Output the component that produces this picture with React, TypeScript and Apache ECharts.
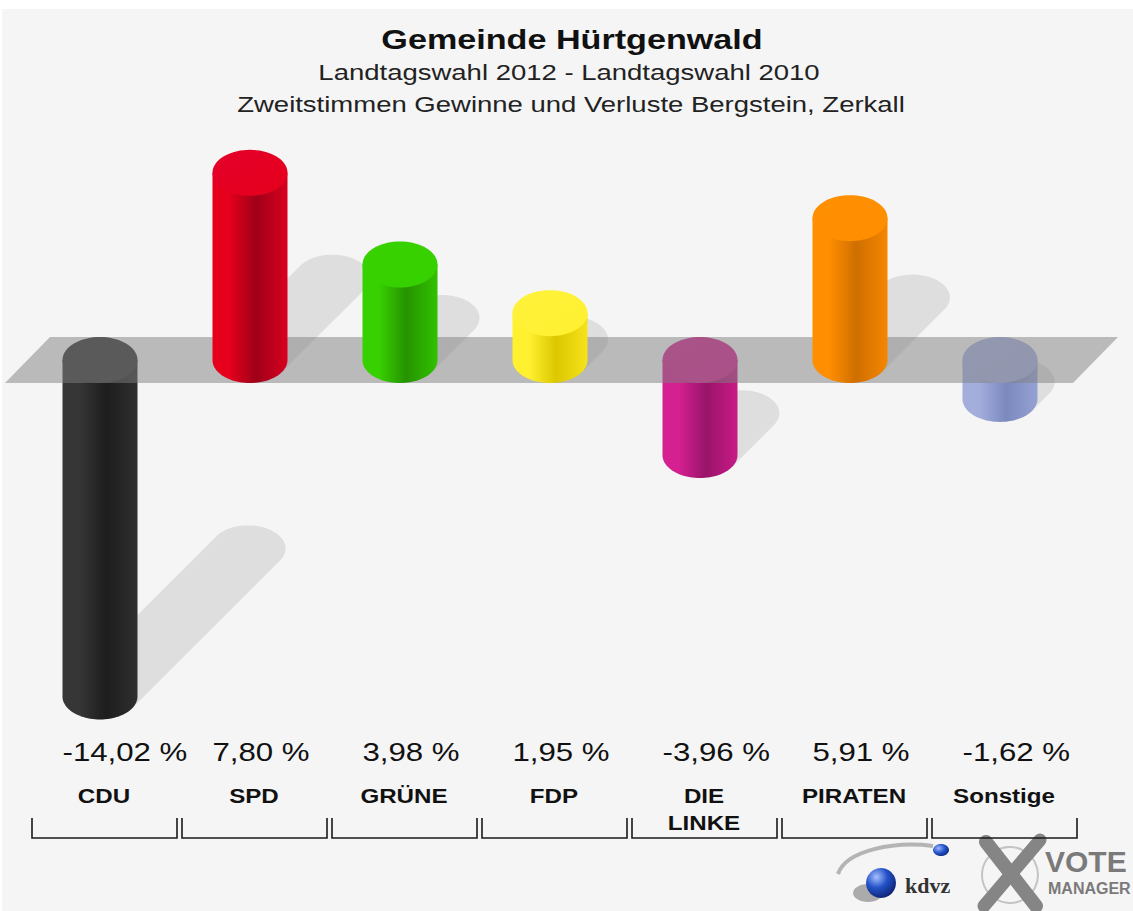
import React, { useEffect, useRef } from "react";
import * as echarts from "echarts";

// ---------- data ----------
const categories = ["CDU", "SPD", "GRÜNE", "FDP", "DIE\nLINKE", "PIRATEN", "Sonstige"];
const values = [-14.02, 7.8, 3.98, 1.95, -3.96, 5.91, -1.62];
const titleText = "Gemeinde Hürtgenwald";
const subtitleLines = [
  "Landtagswahl 2012 - Landtagswahl 2010",
  "Zweitstimmen Gewinne und Verluste Bergstein, Zerkall",
];
const yMin = -15;
const yMax = 10;

// ---------- palette ----------
const bodyLeft = ["#363636", "#e6001c", "#37d000", "#fff030", "#d42090", "#ff8e00", "#a3aedd"];
const bodyMid = ["#1d1d1d", "#9f0019", "#269300", "#dcc700", "#99146a", "#cf6f00", "#7c89be"];
const bodyRight = ["#2f2f2f", "#d8001f", "#31c100", "#f6e31a", "#c81a86", "#f58600", "#96a2d4"];
const capColor = ["#333333", "#e3002a", "#38d200", "#fff23a", "#d22890", "#ff9000", "#a5b0de"];

const FONT = '"Liberation Sans", Arial, Helvetica, sans-serif';
const RY = 23;

const fmt = (v: number) => v.toFixed(2).replace(".", ",") + " %";

function ellipseArc(cx: number, cy: number, rx: number, ry: number, a0: number, a1: number, n = 48) {
  const pts: number[][] = [];
  for (let j = 0; j <= n; j++) {
    const a = a0 + ((a1 - a0) * j) / n;
    pts.push([cx + rx * Math.cos(a), cy + ry * Math.sin(a)]);
  }
  return pts;
}

function sweptEllipse(cx: number, cy: number, rx: number, ry: number, tx: number, ty: number, n = 160) {
  const pts: number[][] = [];
  for (let j = 0; j < n; j++) {
    const a = (2 * Math.PI * j) / n;
    const c = Math.cos(a);
    const s = Math.sin(a);
    let x = cx + rx * c;
    let y = cy + ry * s;
    if ((c / rx) * tx + (s / ry) * ty > 0) {
      x += tx;
      y += ty;
    }
    pts.push([x, y]);
  }
  return pts;
}

function bodyGradient(i: number) {
  return new echarts.graphic.LinearGradient(0, 0, 1, 0, [
    { offset: 0, color: bodyLeft[i] },
    { offset: 0.22, color: bodyLeft[i] },
    { offset: 0.58, color: bodyMid[i] },
    { offset: 1, color: bodyRight[i] },
  ]);
}

function geom(api: any) {
  const i = api.value(0) as number;
  const v = api.value(1) as number;
  const [cx, yv] = api.coord([i, v]);
  const [, y0] = api.coord([i, 0]);
  const bw = api.size([1, 0])[0];
  const rx = bw * 0.25;
  return { i, v, cx, yv, y0, bw, rx };
}

export default function App() {
  const ref = useRef<HTMLDivElement>(null);

  useEffect(() => {
    const chart = echarts.init(ref.current!, null, { renderer: "svg" });
    const data = values.map((v, i) => [i, v]);

    const shadowItem = (params: any, api: any) => {
      const { v, cx, yv, y0, rx } = geom(api);
      const h = Math.abs(yv - y0);
      const yBase = v >= 0 ? y0 : yv;
      const d = 0.44 * h;
      return {
        type: "polygon",
        shape: { points: sweptEllipse(cx, yBase, rx, RY, d, -d) },
        style: { fill: "rgba(0,0,0,0.09)" },
      };
    };

    const barItem = (wantPositive: boolean) => (params: any, api: any) => {
      const { i, v, cx, yv, y0, rx } = geom(api);
      if ((v >= 0) !== wantPositive) return null;
      const xl = cx - rx;
      const xr = cx + rx;
      const yTop = v >= 0 ? yv : y0;
      const yBot = v >= 0 ? y0 : yv;
      const body = [[xl, yTop], [xr, yTop], ...ellipseArc(cx, yBot, rx, RY, 0, Math.PI)];
      const cap = ellipseArc(cx, yTop, rx, RY, 0, 2 * Math.PI, 72);
      return {
        type: "group",
        children: [
          { type: "polygon", shape: { points: body }, style: { fill: bodyGradient(i) } },
          {
            type: "polygon",
            shape: { points: cap },
            style: {
              fill: new echarts.graphic.LinearGradient(0, 0, 1, 1, [
                { offset: 0, color: capColor[i] },
                { offset: 1, color: bodyLeft[i] },
              ]),
            },
          },
        ],
      };
    };

    const bandItem = (params: any, api: any) => {
      const [, y0] = api.coord([0, 0]);
      const cs = params.coordSys;
      const left = cs.x - 20;
      const right = cs.x + cs.width - 2;
      const shift = 45;
      return {
        type: "polygon",
        shape: {
          points: [
            [left, y0 + RY],
            [right, y0 + RY],
            [right + shift, y0 - RY],
            [left + shift, y0 - RY],
          ],
        },
        style: { fill: "rgba(128,128,128,0.5)" },
      };
    };

    const labelItem = (params: any, api: any) => {
      const { i, v, cx, bw, rx } = geom(api);
      const secL = cx - bw / 2 + 7;
      const secR = cx + bw / 2 + 2;
      return {
        type: "group",
        children: [
          {
            type: "text",
            x: cx - rx,
            y: 752,
            scaleX: 1.2,
            style: {
              text: fmt(v),
              fill: "#111111",
              font: `26px ${FONT}`,
              align: "left",
              textAlign: "left",
              verticalAlign: "middle",
              textVerticalAlign: "middle",
            },
          },
          {
            type: "text",
            x: cx + 4,
            y: 783,
            scaleX: 1.15,
            style: {
              text: categories[i],
              fill: "#111111",
              font: `bold 21px ${FONT}`,
              lineHeight: 27,
              align: "center",
              textAlign: "center",
              verticalAlign: "top",
              textVerticalAlign: "top",
            },
          },
          {
            type: "polyline",
            shape: { points: [[secL, 818], [secL, 838], [secR, 838], [secR, 818]] },
            style: { stroke: "#1a1a1a", lineWidth: 1.6, fill: "none" },
          },
        ],
      };
    };

    const option: any = {
      animation: false,
      backgroundColor: "#f5f5f5",
      grid: { left: 25, width: 1050, top: 120, height: 600 },
      xAxis: { type: "category", data: categories, show: false },
      yAxis: { type: "value", min: yMin, max: yMax, show: false },
      graphic: [
        { type: "rect", shape: { x: 0, y: 0, width: 1133, height: 9 }, style: { fill: "#ffffff" }, z: 0 },
        { type: "rect", shape: { x: 0, y: 0, width: 2, height: 911 }, style: { fill: "#ffffff" }, z: 0 },
        {
          type: "text",
          x: 572,
          y: 40,
          scaleX: 1.22,
          style: { text: titleText, font: `bold 28px ${FONT}`, fill: "#111111", textAlign: "center", align: "center", textVerticalAlign: "middle", verticalAlign: "middle" },
        },
        {
          type: "text",
          x: 569,
          y: 72,
          scaleX: 1.25,
          style: { text: subtitleLines[0], font: `22px ${FONT}`, fill: "#222222", textAlign: "center", align: "center", textVerticalAlign: "middle", verticalAlign: "middle" },
        },
        {
          type: "text",
          x: 571,
          y: 104,
          scaleX: 1.25,
          style: { text: subtitleLines[1], font: `22px ${FONT}`, fill: "#222222", textAlign: "center", align: "center", textVerticalAlign: "middle", verticalAlign: "middle" },
        },
        // logo
        {
          type: "bezierCurve",
          shape: { x1: 838, y1: 874, cpx1: 846, cpy1: 850, cpx2: 895, cpy2: 841, x2: 933, y2: 846 },
          style: { stroke: "#b4b4b4", lineWidth: 4, fill: "none" },
        },
        {
          type: "ellipse",
          shape: { cx: 941, cy: 850, rx: 8, ry: 6 },
          style: {
            fill: new echarts.graphic.RadialGradient(0.35, 0.35, 0.8, [
              { offset: 0, color: "#9ab6ff" },
              { offset: 0.5, color: "#2452c8" },
              { offset: 1, color: "#0b2070" },
            ]),
          },
        },
        {
          type: "ellipse",
          shape: { cx: 868, cy: 893, rx: 15, ry: 9 },
          style: { fill: "rgba(0,0,0,0.3)" },
        },
        {
          type: "circle",
          shape: { cx: 881, cy: 883, r: 15 },
          style: {
            fill: new echarts.graphic.RadialGradient(0.35, 0.3, 0.8, [
              { offset: 0, color: "#a8c0ff" },
              { offset: 0.45, color: "#2452c8" },
              { offset: 1, color: "#0a1c66" },
            ]),
          },
        },
        {
          type: "text",
          x: 905,
          y: 885,
          style: { text: "kdvz", font: 'bold 22px "Liberation Serif", "DejaVu Serif", serif', fill: "#333333", textAlign: "left", align: "left", textVerticalAlign: "middle", verticalAlign: "middle" },
        },
        {
          type: "circle",
          shape: { cx: 1010, cy: 875, r: 28 },
          style: { fill: "none", stroke: "#c4c4c4", lineWidth: 2 },
        },
        {
          type: "line",
          shape: { x1: 986, y1: 842, x2: 1036, y2: 906 },
          style: { stroke: "#858585", lineWidth: 14, lineCap: "round" },
        },
        {
          type: "line",
          shape: { x1: 1040, y1: 840, x2: 984, y2: 906 },
          style: { stroke: "#858585", lineWidth: 13, lineCap: "round" },
        },
        {
          type: "text",
          x: 1045,
          y: 861,
          style: { text: "VOTE", font: `bold 30px ${FONT}`, fill: "#7a7a7a", textAlign: "left", align: "left", textVerticalAlign: "middle", verticalAlign: "middle" },
        },
        {
          type: "text",
          x: 1048,
          y: 888,
          style: { text: "MANAGER", font: `bold 16px ${FONT}`, fill: "#7a7a7a", textAlign: "left", align: "left", textVerticalAlign: "middle", verticalAlign: "middle" },
        },
      ],
      series: [
        { type: "custom", name: "shadow", z: 1, data, renderItem: shadowItem, silent: true },
        { type: "custom", name: "negative", z: 2, data, renderItem: barItem(false) },
        { type: "custom", name: "band", z: 3, data: [[0, 0]], renderItem: bandItem, silent: true },
        { type: "custom", name: "positive", z: 4, data, renderItem: barItem(true) },
        { type: "custom", name: "labels", z: 5, data, renderItem: labelItem, silent: true, clip: false },
      ],
    };

    chart.setOption(option);
    return () => chart.dispose();
  }, []);

  return <div ref={ref} style={{ position: "absolute", left: 0, top: 0, width: 1133, height: 911 }} />;
}
